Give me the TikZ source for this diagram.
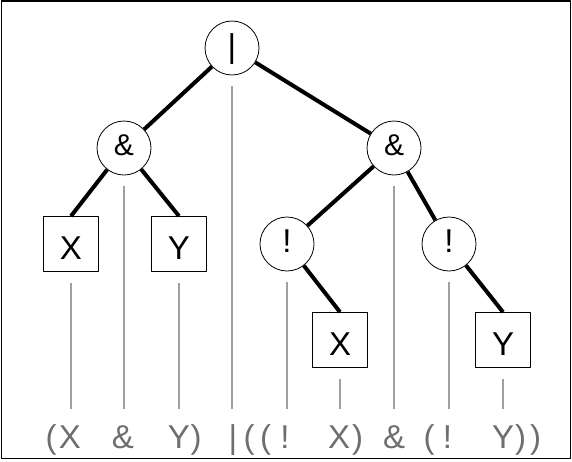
\documentclass[tikz,border=0pt]{standalone}
\usepackage{fontspec}
\setmainfont{Liberation Sans}
\usetikzlibrary{positioning}
\definecolor{guideGray}{RGB}{160,160,160}
\definecolor{exprGray}{RGB}{110,110,110}
\newcommand{\guideLine}[1]{
    \draw[guide] ([yshift=-11pt]#1.south) -- (#1 |- guideEnd);
}
\newcommand{\exprChar}[3]{
    \node[expr] (#1) at (#2,448) {#3};
}

\begin{document}
\begin{tikzpicture}[x=1pt,y=-1pt,line cap=round,line join=round,
    opNode/.style={circle,draw,line width=0.8pt,minimum size=54pt,inner sep=0pt,
        font=\fontsize{33}{36}\selectfont,text depth=5pt},
    andNode/.style={opNode,font=\fontsize{30}{33}\selectfont},
    varNode/.style={rectangle,draw,line width=0.8pt,minimum size=55pt,inner sep=0pt,
        font=\fontsize{33}{36}\selectfont,text height=31.6pt,text depth=0pt},
    edge/.style={line width=4pt,black,line cap=butt},
    guide/.style={line width=2pt,guideGray,line cap=butt},
    expr/.style={anchor=base,inner sep=0pt,outer sep=0pt,text=exprGray,
        font=\fontsize{33}{36}\selectfont}]
                \useasboundingbox (0,0) rectangle (572,461);
                \draw[line width=1.2pt] (1.5,1) rectangle (570.5,458.5);

                % tree
                \node[opNode] (orOp) at (232,48) {|};
                \node[andNode] (andL) at (124,148) {\&};
                \node[andNode] (andR) at (394,148) {\&};
                \node[varNode] (varXL) at (71,244) {X};
                \node[varNode] (varYL) at (179,244) {Y};
                \node[opNode] (notL) at (287,244) {!};
                \node[opNode] (notR) at (449,244) {!};
                \node[varNode] (varXR) at (340,340) {X};
                \node[varNode] (varYR) at (503,340) {Y};

                \draw[edge] (orOp) -- (andL);
                \draw[edge] (orOp) -- (andR);
                \draw[edge] (andL) -- (varXL.north);
                \draw[edge] (andL) -- (varYL.north);
                \draw[edge] (andR) -- (notL);
                \draw[edge] (andR) -- (notR);
                \draw[edge] (notL) -- (varXR.north);
                \draw[edge] (notR) -- (varYR.north);

                % lines down to the expression
                \coordinate (guideEnd) at (0,409);
                \guideLine{varXL}
                \guideLine{andL}
                \guideLine{varYL}
                \guideLine{orOp}
                \guideLine{notL}
                \guideLine{varXR}
                \guideLine{andR}
                \guideLine{notR}
                \guideLine{varYR}

                % the expression
                \exprChar{e1}{51}{(}
                \exprChar{e2}{70}{X}
                \exprChar{e3}{123}{\&}
                \exprChar{e4}{179}{Y}
                \exprChar{e5}{196}{)}
                \exprChar{e6}{233}{|}
                \exprChar{e7}{249}{(}
                \exprChar{e8}{265.5}{(}
                \exprChar{e9}{285}{!}
                \exprChar{e10}{339}{X}
                \exprChar{e11}{357.5}{)}
                \exprChar{e12}{394}{\&}
                \exprChar{e13}{429}{(}
                \exprChar{e14}{447.5}{!}
                \exprChar{e15}{503}{Y}
                \exprChar{e16}{520.5}{)}
                \exprChar{e17}{535.5}{)}
            \end{tikzpicture}
\end{document}
